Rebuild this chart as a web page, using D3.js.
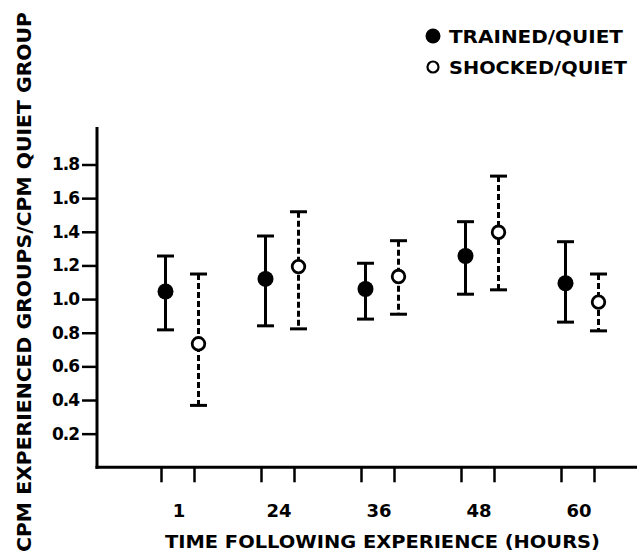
<!DOCTYPE html>
<html><head><meta charset="utf-8">
<script src="https://cdn.jsdelivr.net/npm/d3@7"></script>
<style>
html,body{margin:0;padding:0;background:#fff;}
text{font-family:"DejaVu Sans","Liberation Sans",sans-serif;font-weight:bold;fill:#000;}
</style></head>
<body>
<svg id="c" width="637" height="554"></svg>
<script>
const groups = ["1","24","36","48","60"];
const trainedMean  = [1.045, 1.12, 1.06, 1.256, 1.094];
const trainedUpper = [1.256, 1.375, 1.213, 1.46, 1.341];
const trainedLower = [0.817, 0.841, 0.881, 1.029, 0.863];
const shockedMean  = [0.734, 1.193, 1.134, 1.397, 0.982];
const shockedUpper = [1.149, 1.519, 1.347, 1.731, 1.149];
const shockedLower = [0.368, 0.823, 0.91, 1.055, 0.811];
const yTicks = [0.2,0.4,0.6,0.8,1.0,1.2,1.4,1.6,1.8];
const legendLabels = ["TRAINED/QUIET","SHOCKED/QUIET"];
const xTitle = "TIME FOLLOWING EXPERIENCE (HOURS)";
const yTitle = "CPM EXPERIENCED GROUPS/CPM QUIET GROUP";

const svg = d3.select("#c");
const x = d3.scaleBand().domain(groups).range([132, 632]);
const y = d3.scaleLinear().domain([0, 1.8]).range([467.3, 164.5]);
const off = 16.5;
const cx = g => x(g) + x.bandwidth()/2;

// axes lines
svg.append("line").attr("x1",97).attr("x2",97).attr("y1",127).attr("y2",y(0)+1.5)
  .attr("stroke","#000").attr("stroke-width",3);
svg.append("line").attr("x1",95.5).attr("x2",637).attr("y1",y(0)).attr("y2",y(0))
  .attr("stroke","#000").attr("stroke-width",3);

// y axis ticks
const ya = svg.append("g").attr("transform","translate(97,0)")
  .call(d3.axisLeft(y).tickValues(yTicks).tickSize(15).tickPadding(3).tickFormat(d3.format(".1f")));
ya.select(".domain").remove();
ya.selectAll("line").attr("stroke","#000").attr("stroke-width",2.5);
ya.selectAll("text").style("font-size","17px").attr("letter-spacing","-1px").attr("fill","#000");

// x ticks (one per series point)
const xt = svg.append("g");
groups.forEach(g => {
  [-off, off].forEach(o => {
    xt.append("line").attr("x1", cx(g)+o-4).attr("x2", cx(g)+o-4)
      .attr("y1", y(0)).attr("y2", y(0)+15).attr("stroke","#000").attr("stroke-width",2.5);
  });
});
svg.append("g").selectAll("text").data(groups).join("text")
  .attr("x", d => cx(d)-3).attr("y", 517).attr("text-anchor","middle")
  .style("font-size","18px").text(d => d);

// series
function series(mean, upper, lower, o, filled) {
  const g = svg.append("g");
  groups.forEach((grp, i) => {
    const px = cx(grp) + o;
    g.append("line").attr("x1",px).attr("x2",px).attr("y1",y(upper[i])).attr("y2",y(lower[i]))
      .attr("stroke","#000").attr("stroke-width",3)
      .attr("stroke-dasharray", filled ? null : "6,3");
    [upper[i], lower[i]].forEach(v => {
      g.append("line").attr("x1",px-8.5).attr("x2",px+8.5).attr("y1",y(v)).attr("y2",y(v))
        .attr("stroke","#000").attr("stroke-width",3);
    });
    g.append("circle").attr("cx",px).attr("cy",y(mean[i]))
      .attr("r", filled ? 8 : 6.3)
      .attr("fill", filled ? "#000" : "#fff")
      .attr("stroke","#000").attr("stroke-width", filled ? 0 : 2.8);
  });
}
series(trainedMean, trainedUpper, trainedLower, -off, true);
series(shockedMean, shockedUpper, shockedLower, off, false);

// legend
const lg = svg.append("g");
lg.append("circle").attr("cx",433).attr("cy",36).attr("r",7.5).attr("fill","#000");
lg.append("circle").attr("cx",433).attr("cy",67).attr("r",5.5).attr("fill","#fff")
  .attr("stroke","#000").attr("stroke-width",2.2);
lg.append("text").attr("x",449).attr("y",43).style("font-size","17px")
  .attr("textLength",174).attr("lengthAdjust","spacingAndGlyphs").text(legendLabels[0]);
lg.append("text").attr("x",449).attr("y",74).style("font-size","17px")
  .attr("textLength",178).attr("lengthAdjust","spacingAndGlyphs").text(legendLabels[1]);

// titles
svg.append("text").attr("x",165).attr("y",548).style("font-size","18px")
  .attr("textLength",435).attr("lengthAdjust","spacingAndGlyphs").text(xTitle);
svg.append("text").attr("transform","translate(31,552) rotate(-90)")
  .style("font-size","20px")
  .attr("textLength",540).attr("lengthAdjust","spacingAndGlyphs").text(yTitle);
</script>
</body></html>
